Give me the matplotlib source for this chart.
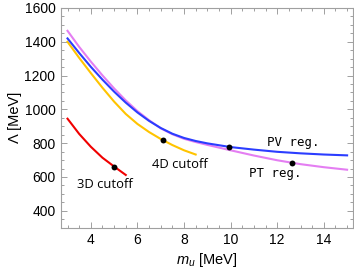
import numpy as np
import matplotlib
matplotlib.use("Agg")
import matplotlib.pyplot as plt
from matplotlib import ticker

plt.rcParams['mathtext.fontset'] = 'custom'
plt.rcParams['mathtext.rm'] = 'Liberation Sans'
plt.rcParams['mathtext.it'] = 'Liberation Sans:italic'

# values
mu_pv = [3, 3.5, 4, 4.5, 5, 5.5, 6, 6.5, 7, 7.5, 8, 8.5, 9, 10, 11, 12, 13, 14, 15]
lam_pv = [1420, 1334, 1252, 1176, 1105, 1040, 982, 932, 890, 856, 831, 813, 799, 777, 762, 749, 740, 733, 728]

mu_pt = [3, 3.5, 4, 4.5, 5, 5.5, 6, 6.5, 7, 7.5, 8, 8.5, 9, 10, 11, 12, 13, 14, 15]
lam_pt = [1465, 1370, 1283, 1201, 1124, 1053, 990, 936, 888, 853, 826, 807, 790, 758, 727, 699, 676, 658, 643]

mu_4d = [3, 3.5, 4, 4.5, 5, 5.5, 6, 6.5, 7, 7.5, 8, 8.5]
lam_4d = [1400, 1305, 1215, 1128, 1046, 973, 914, 866, 825, 789, 758, 733]

mu_3d = [3, 3.5, 4, 4.5, 5, 5.5]
lam_3d = [945, 855, 779, 714, 662, 612]

dot_mu = [5, 7.09, 9.92, 12.63]
dot_lam = [662, 821, 778, 684]

labels = ["3D cutoff", "4D cutoff", "PV reg.", "PT reg."]
label_mu = [4.62, 7.84, 12.7, 11.92]
label_lam = [554, 673, 805, 620]

fig = plt.figure(figsize=(3.54, 2.72), dpi=100)
ax = fig.add_axes([0.1723, 0.1629, 0.9963 - 0.1723, 0.9706 - 0.1629])

ax.plot(mu_3d, lam_3d, color='#f00000', lw=1.5)
ax.plot(mu_4d, lam_4d, color='#ffc400', lw=1.5)
ax.plot(mu_pt, lam_pt, color='#e47ef2', lw=1.5)
ax.plot(mu_pv, lam_pv, color='#2b3dff', lw=1.5)
ax.scatter(dot_mu, dot_lam, c='black', s=18, zorder=5, linewidths=0)

for i in range(len(labels)):
    if i < 2:
        ax.text(label_mu[i], label_lam[i], labels[i], ha='center', va='center',
                fontsize=9.4, family='Open Sans')
    else:
        ax.text(label_mu[i], label_lam[i], labels[i], ha='center', va='center',
                fontsize=8.9, family='DejaVu Sans Mono')

ax.set_xlim(2.72, 15.24)
ax.set_ylim(300, 1600)
ax.xaxis.set_major_locator(ticker.MultipleLocator(2))
ax.xaxis.set_minor_locator(ticker.MultipleLocator(0.5))
ax.yaxis.set_major_locator(ticker.MultipleLocator(200))
ax.yaxis.set_minor_locator(ticker.MultipleLocator(50))
ax.set_yticks([400, 600, 800, 1000, 1200, 1400, 1600])

for s in ax.spines.values():
    s.set_color('#a0a0a0')
    s.set_linewidth(0.8)
ax.tick_params(which='both', direction='in', top=True, right=True, color='#a0a0a0',
               labelsize=10, width=0.7)
ax.tick_params(which='major', length=4, pad=4)
ax.tick_params(which='minor', length=2.2)
for lab in ax.get_xticklabels() + ax.get_yticklabels():
    lab.set_family('Liberation Sans')

ax.set_xlabel(r'$m_u$ [MeV]', fontsize=10.5, family='Liberation Sans', labelpad=3)
ax.set_ylabel('Λ [MeV]', fontsize=10.5, family='Liberation Sans', labelpad=2)

plt.savefig('out.png', dpi=100)
